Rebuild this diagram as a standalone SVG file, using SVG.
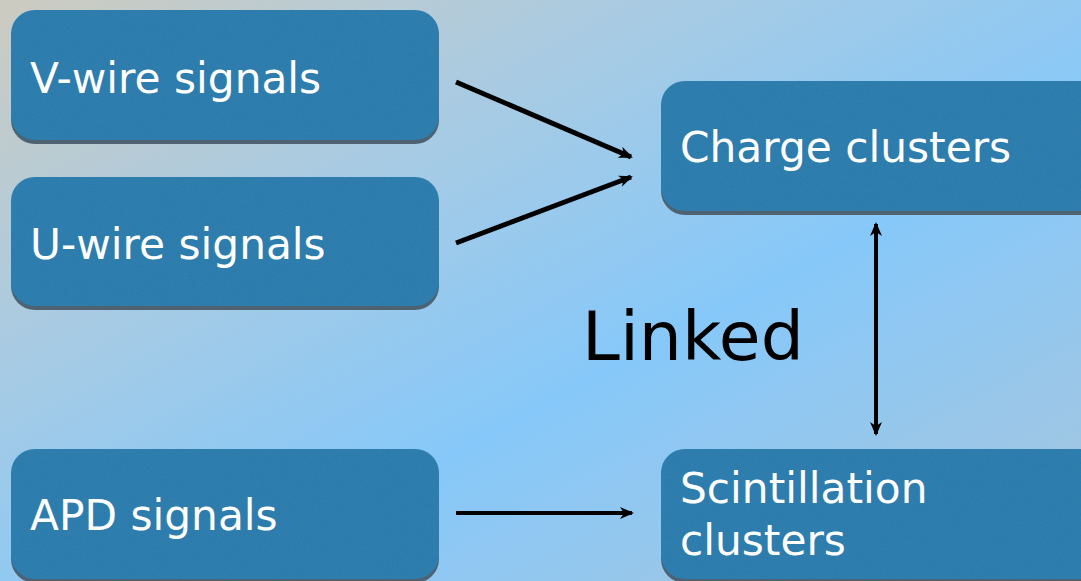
<svg xmlns="http://www.w3.org/2000/svg" width="1081" height="581" viewBox="0 0 1081 581">
<defs>
<linearGradient id="bg" x1="0" y1="0" x2="1" y2="1">
<stop offset="0" stop-color="#cdcbc0"/>
<stop offset="0.3" stop-color="#a9cbe2"/>
<stop offset="0.6" stop-color="#86c8f9"/>
<stop offset="1" stop-color="#a9c6dc"/>
</linearGradient>
<marker id="ah" viewBox="0 0 14 12" refX="12" refY="6" markerWidth="14" markerHeight="12" markerUnits="userSpaceOnUse" orient="auto-start-reverse">
<path d="M0,0 L14,6 L0,12 L4,6 z" fill="#000"/>
</marker>
<filter id="tex" x="0" y="0" width="1" height="1">
<feTurbulence type="fractalNoise" baseFrequency="0.9" numOctaves="2" seed="3" result="n"/>
<feColorMatrix in="n" type="matrix" values="0 0 0 0 0.12  0 0 0 0 0.42  0 0 0 0 0.62  0 0 0 0.12 0" result="c"/>
<feComposite in="c" in2="SourceGraphic" operator="in" result="t"/>
<feMerge><feMergeNode in="SourceGraphic"/><feMergeNode in="t"/></feMerge>
</filter>
</defs>
<style>
.sh{fill:#4e6272;}
.box{fill:#2c79ab;}
.lbl{font-family:"DejaVu Sans",sans-serif;font-size:42.3px;fill:#ffffff;}
.conn{stroke:#000;stroke-width:5;fill:none;marker-end:url(#ah);}
</style>
<rect width="1081" height="581" fill="url(#bg)"/>

<g id="v-wire">
<rect class="sh" x="11" y="14" width="428" height="130" rx="24"/>
<rect class="box" x="11" y="10" width="428" height="130" rx="24" filter="url(#tex)"/>
<text class="lbl" x="30" y="93">V-wire signals</text>
</g>
<g id="u-wire">
<rect class="sh" x="11" y="181" width="428" height="129" rx="24"/>
<rect class="box" x="11" y="177" width="428" height="129" rx="24" filter="url(#tex)"/>
<text class="lbl" x="30" y="259">U-wire signals</text>
</g>
<g id="apd">
<rect class="sh" x="11" y="453" width="428" height="130" rx="24"/>
<rect class="box" x="11" y="449" width="428" height="130" rx="24" filter="url(#tex)"/>
<text class="lbl" x="30" y="530">APD signals</text>
</g>
<g id="charge">
<rect class="sh" x="661" y="85" width="450" height="130" rx="24"/>
<rect class="box" x="661" y="81" width="450" height="130" rx="24" filter="url(#tex)"/>
<text class="lbl" x="680" y="162">Charge clusters</text>
</g>
<g id="scint">
<rect class="sh" x="661" y="453" width="450" height="130" rx="24"/>
<rect class="box" x="661" y="449" width="450" height="130" rx="24" filter="url(#tex)"/>
<text class="lbl" x="680" y="503">Scintillation</text>
<text class="lbl" x="680" y="555">clusters</text>
</g>
<g id="linked-label">
<text x="582" y="360" font-family="DejaVu Sans, sans-serif" font-size="68" fill="#000">Linked</text>
</g>

<g id="connectors">
<line class="conn" x1="456" y1="82" x2="631" y2="157"/>
<line class="conn" x1="456" y1="243" x2="631" y2="177"/>
<line class="conn" x1="456" y1="513" x2="632" y2="513" style="stroke-width:4"/>
<line class="conn" x1="876" y1="224" x2="876" y2="434" style="stroke-width:4;marker-start:url(#ah)"/>
</g>
</svg>
